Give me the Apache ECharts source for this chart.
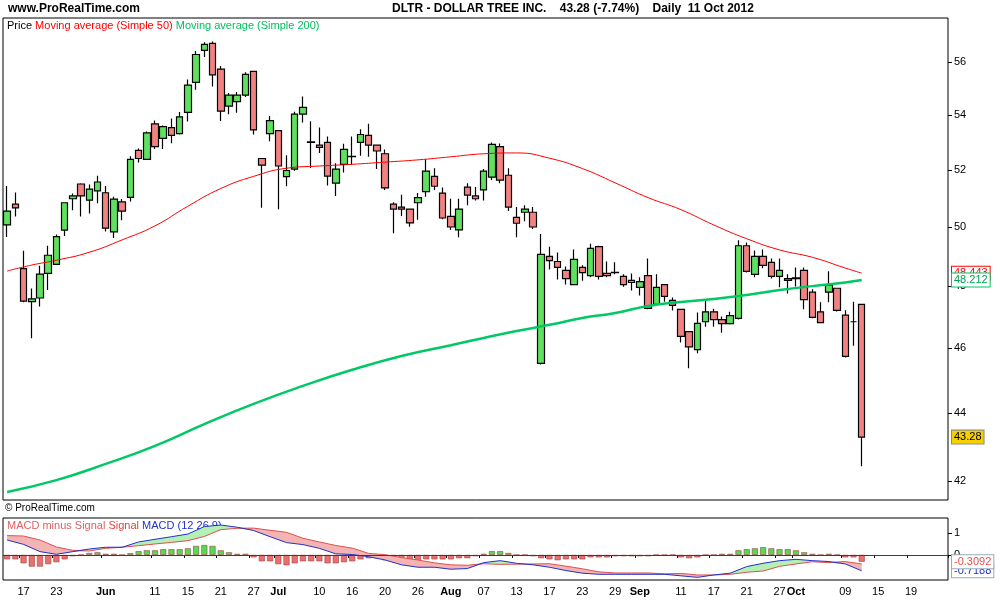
<!DOCTYPE html>
<html>
<head>
<meta charset="utf-8">
<title>DLTR - DOLLAR TREE INC.</title>
<script src="https://cdn.jsdelivr.net/npm/echarts@6/dist/echarts.min.js"></script>
<style>
  * {margin: 0; padding: 0;}
  #chart {width: 1000px; height: 600px; background: #fff;}
</style>
</head>
<body>
<div id="chart"></div>
<script>
// trading days: weekdays from 15 May 2012, minus US market holidays, incl. empty days after 11 Oct
var holidays = ['2012-05-28', '2012-07-04', '2012-09-03'];
var dates = [];
for (var d = new Date(Date.UTC(2012, 4, 15)); dates.length < 115; d.setUTCDate(d.getUTCDate() + 1)) {
  var wd = d.getUTCDay(), s = d.toISOString().slice(0, 10);
  if (wd > 0 && wd < 6 && holidays.indexOf(s) < 0) dates.push(s);
}

var tickDates = ['2012-05-17','2012-05-23','2012-06-01','2012-06-11','2012-06-15','2012-06-21','2012-06-27',
  '2012-07-02','2012-07-10','2012-07-16','2012-07-20','2012-07-26','2012-08-01','2012-08-07','2012-08-13',
  '2012-08-17','2012-08-23','2012-08-29','2012-09-04','2012-09-11','2012-09-17','2012-09-21','2012-09-27',
  '2012-10-01','2012-10-09','2012-10-15','2012-10-19'];
var tickLabels = ['17','23','Jun','11','15','21','27','Jul','10','16','20','26','Aug','07','13',
  '17','23','29','Sep','11','17','21','27','Oct','09','15','19'];

var priceTicks = [42, 44, 46, 48, 50, 52, 54, 56];
var macdTicks = [1, 0];

// [open, close, low, high]
var ohlc = [
  [50.07,50.55,49.66,51.43],[50.79,50.66,50.36,51.2],[48.59,47.52,47.48,49.19],[47.5,47.59,46.32,47.93],
  [47.62,48.41,47.34,48.69],[48.43,49.04,47.88,49.36],[48.73,49.67,48.73,49.74],[49.89,50.84,49.69,50.84],
  [50.98,51.08,50.58,51.16],[51.5,51.08,50.36,51.53],[50.93,51.32,50.47,51.48],[51.26,51.57,50.82,51.79],
  [51.19,49.96,49.85,51.43],[49.83,50.97,49.62,51.05],[50.87,50.55,50.23,50.97],[51.03,52.38,50.88,52.49],
  [52.7,52.41,52.27,52.77],[52.38,53.34,52.38,53.39],[53.67,52.84,52.75,53.8],[53.14,53.57,52.75,53.61],
  [53.53,53.25,52.96,53.87],[53.31,53.93,53.28,54.11],[54.1,55.12,53.76,55.33],[55.22,56.29,54.94,56.43],
  [56.45,56.68,56.19,56.77],[56.72,55.51,55.07,56.8],[55.73,54.14,53.78,55.85],[54.33,54.74,54.03,54.82],
  [54.5,54.74,54.08,54.86],[54.74,55.53,54.67,55.61],[55.64,53.45,53.28,55.66],[52.41,52.17,50.67,52.43],
  [53.31,53.79,53.03,53.96],[53.42,52.14,50.61,53.42],[51.76,51.98,51.42,52.53],[52.03,54.03,51.97,54.12],
  [54.03,54.28,53.72,54.69],[53.01,52.99,52.07,53.77],[52.89,52.81,52.61,53.54],[52.99,51.78,51.45,53.21],
  [51.53,52.03,51.08,52.24],[52.2,52.74,51.91,52.94],[52.48,52.49,52.18,53.21],[52.99,53.28,52.51,53.47],
  [53.25,52.89,52.47,53.68],[52.89,52.68,52.03,52.89],[52.58,51.36,51.29,52.73],[50.79,50.62,49.79,50.86],
  [50.69,50.62,50.38,51.12],[50.62,50.14,50.01,50.62],[50.84,51.02,50.25,51.18],[51.23,51.96,51.05,52.38],
  [51.77,51.42,51.29,52.06],[51.18,50.31,50.27,51.38],[50.37,50.0,49.9,50.98],[49.9,50.62,49.65,50.98],
  [51.39,51.11,50.75,51.53],[51.08,50.98,50.92,51.39],[51.29,51.96,50.92,52.03],[51.74,52.92,51.64,52.99],
  [52.84,51.64,51.53,52.95],[51.81,50.69,50.55,52.06],[50.33,50.13,49.65,50.69],[50.51,50.62,50.2,50.75],
  [50.51,50.0,49.93,50.69],[45.53,49.07,45.49,49.76],[49.0,48.86,48.56,49.33],[48.83,48.63,48.23,49.13],
  [48.53,48.26,48.06,48.66],[48.06,48.9,48.06,49.23],[48.63,48.46,48.19,48.7],[48.36,49.27,48.3,49.43],
  [49.33,48.33,48.23,49.36],[48.43,48.36,48.3,48.83],[48.47,48.46,48.4,48.8],[48.33,48.06,47.99,48.4],
  [48.2,48.13,47.87,48.43],[47.97,48.16,47.7,48.3],[48.36,47.28,47.25,48.93],[47.41,47.97,47.38,48.4],
  [48.06,47.67,47.5,48.06],[47.54,47.38,47.21,47.64],[47.25,46.38,46.19,47.25],[46.53,46.05,45.38,46.53],
  [45.96,46.8,45.85,47.15],[46.85,47.17,46.69,47.55],[47.17,46.92,46.69,47.27],[46.92,46.79,46.5,47.02],
  [46.79,47.05,46.76,47.17],[46.96,49.36,46.92,49.55],[49.36,48.5,48.46,49.47],[48.4,49.0,48.3,49.2],
  [49.0,48.7,48.6,49.23],[48.8,48.33,48.26,48.93],[48.33,48.53,47.97,48.93],[48.2,48.26,47.77,48.4],
  [48.28,48.26,48.0,48.63],[48.53,47.57,47.25,48.63],[47.81,46.99,46.96,47.91],[47.17,46.82,46.82,47.48],
  [47.81,48.04,47.48,48.5],[47.94,47.22,47.18,47.94],[47.06,45.75,45.71,47.22],[46.85,46.85,46.08,47.5],
  [47.41,43.28,42.42,47.41]
];

// [day index, value]
var ma50 = [[0,48.51],[3,48.71],[6,48.87],[10,49.14],[14,49.56],[18,50.04],[22,50.72],[26,51.34],[30,51.77],
  [34,52.06],[38,52.14],[42,52.2],[46,52.28],[50,52.36],[54,52.47],[58,52.58],[62,52.61],[66,52.42],[70,52.05],
  [74,51.54],[78,51.02],[82,50.6],[86,50.07],[90,49.6],[94,49.22],[98,48.97],[102,48.61],[104,48.44]];
var ma200 = [[0,41.68],[6,42.02],[12,42.49],[18,43.02],[24,43.67],[30,44.28],[36,44.83],[42,45.33],[48,45.76],
  [54,46.1],[58,46.33],[62,46.55],[66,46.75],[70,46.97],[74,47.13],[78,47.36],[82,47.49],[86,47.59],[90,47.72],
  [94,47.88],[98,48.01],[102,48.13],[104,48.21]];

var hist = [-0.2,-0.2,-0.38,-0.53,-0.53,-0.42,-0.33,-0.2,-0.06,0,0.09,0.12,0.05,0.05,0,0.08,0.17,0.21,0.21,0.26,
  0.26,0.26,0.3,0.41,0.45,0.41,0.21,0.12,0.05,0.05,-0.11,-0.29,-0.29,-0.42,-0.47,-0.38,-0.29,-0.29,-0.29,-0.38,
  -0.38,-0.33,-0.29,-0.2,-0.15,-0.15,-0.24,-0.29,-0.33,-0.38,-0.33,-0.2,-0.2,-0.2,-0.2,-0.15,-0.15,-0.06,0.05,0.17,
  0.17,0.09,0,0,-0.06,-0.15,-0.2,-0.24,-0.2,-0.2,-0.2,-0.11,-0.11,-0.11,-0.06,-0.06,-0.06,-0.06,-0.06,0,
  0,0,-0.11,-0.15,-0.11,0,0,0.05,0.05,0.21,0.26,0.3,0.35,0.3,0.26,0.26,0.21,0.12,0.05,0,
  0.05,0,-0.11,-0.11,-0.31];
var macdIdx = [0,2,4,6,8,10,12,14,16,18,20,22,24,26,28,30,32,34,36,38,40,42,44,46,48,50,52,54,56,58,
  60,62,64,66,68,70,72,74,76,78,80,82,84,86,88,90,92,94,96,98,100,102,104];
var macd = [0.68,0.48,0.15,0.03,0.15,0.27,0.35,0.35,0.59,0.71,0.83,0.95,1.29,1.36,1.26,1.11,0.83,0.56,0.47,0.3,
  0.05,0.02,-0.08,-0.23,-0.45,-0.56,-0.56,-0.65,-0.62,-0.35,-0.26,-0.38,-0.45,-0.56,-0.71,-0.83,-0.88,-0.88,-0.88,-0.88,
  -0.88,-0.95,-1.02,-0.91,-0.83,-0.53,-0.38,-0.26,-0.2,-0.26,-0.3,-0.41,-0.72];
var signal = [0.88,0.86,0.68,0.36,0.21,0.18,0.3,0.35,0.42,0.5,0.57,0.65,0.84,1.15,1.21,1.22,1.12,1.03,0.76,0.59,
  0.43,0.31,0.07,0.01,-0.12,-0.23,-0.36,-0.45,-0.47,-0.4,-0.43,-0.42,-0.41,-0.4,-0.51,-0.63,-0.77,-0.82,-0.82,-0.82,
  -0.86,-0.84,-0.91,-0.91,-0.88,-0.79,-0.73,-0.52,-0.41,-0.31,-0.35,-0.3,-0.41];

var bandBase = [], bandPink = [], bandGreen = [];
for (var i = 0; i < macdIdx.length; i++) {
  var m = macd[i], sg = signal[i];
  bandBase.push([macdIdx[i], Math.min(m, sg)]);
  bandPink.push([macdIdx[i], sg > m ? sg - m : 0]);
  bandGreen.push([macdIdx[i], m > sg ? m - sg : 0]);
}
function pairs(idx, vals) { return idx.map(function (x, k) { return [x, vals[k]]; }); }

var font = 'Arial, "Liberation Sans", sans-serif';

// price tag drawn at the right end of an invisible horizontal mark line
function tagLine(value, text, color, bg, border) {
  return {
    silent: true, symbol: ['none', 'none'], animation: false,
    lineStyle: {color: 'rgba(0,0,0,0)', width: 1, type: 'solid'},
    label: {
      show: true, position: 'end', distance: 4, formatter: text,
      color: color, backgroundColor: bg, borderColor: border, borderWidth: 1,
      padding: [1, 2], fontSize: 11, fontFamily: font
    },
    data: [{yAxis: value}]
  };
}

var chart = echarts.init(document.getElementById('chart'));
var option = {
  animation: false,
  backgroundColor: '#fff',
  textStyle: {fontFamily: font},
  graphic: [
    {type: 'text', left: 8, top: 3, style: {text: 'www.ProRealTime.com', font: 'bold 12px ' + font, fill: '#000'}},
    {type: 'text', left: 392, top: 3, style: {text: 'DLTR - DOLLAR TREE INC.    43.28 (-7.74%)    Daily  11 Oct 2012', font: 'bold 12px ' + font, fill: '#000'}},
    {type: 'text', left: 7, top: 20, style: {
      text: '{a|Price }{b|Moving average (Simple 50) }{c|Moving average (Simple 200)}',
      rich: {a: {fill: '#000', fontSize: 11}, b: {fill: '#ff0000', fontSize: 11}, c: {fill: '#00c060', fontSize: 11}}}},
    {type: 'text', left: 5, top: 503, style: {text: '\u00a9 ProRealTime.com', font: '10px ' + font, fill: '#000'}},
    {type: 'text', left: 7, top: 520, style: {
      text: '{a|MACD minus Signal }{b|Signal }{c|MACD (12 26 9)}',
      rich: {a: {fill: '#e06060', fontSize: 11}, b: {fill: '#e04040', fontSize: 11}, c: {fill: '#2030d0', fontSize: 11}}}}
  ],
  grid: [
    {left: 3, right: 52, top: 18, height: 482, show: true, borderColor: '#000', borderWidth: 1},
    {left: 3, right: 52, top: 518, height: 62, show: true, borderColor: '#000', borderWidth: 1}
  ],
  xAxis: [
    {type: 'category', gridIndex: 0, data: dates, boundaryGap: true,
     axisLine: {show: false}, axisTick: {show: false}, axisLabel: {show: false}, splitLine: {show: false}},
    {type: 'category', gridIndex: 1, data: dates, boundaryGap: true,
     axisLine: {show: false},
     axisTick: {show: true, length: 3, lineStyle: {color: '#000'},
       interval: function (i, v) { return tickDates.indexOf(v) >= 0; }},
     axisLabel: {color: '#000', fontSize: 11, margin: 6, hideOverlap: false,
       interval: function (i, v) { return tickDates.indexOf(v) >= 0; },
       formatter: function (v) {
         var t = tickLabels[tickDates.indexOf(v)];
         return /[A-Z]/.test(t) ? '{b|' + t + '}' : t;
       },
       rich: {b: {fontWeight: 'bold', fontSize: 11, color: '#000'}}},
     splitLine: {show: false}}
  ],
  yAxis: [
    {type: 'log', gridIndex: 0, position: 'right', min: 41.45, max: 57.72, logBase: Math.E,
     axisLine: {show: false}, splitLine: {show: false},
     axisTick: {show: true, length: 4, lineStyle: {color: '#000'}, customValues: priceTicks},
     axisLabel: {color: '#000', fontSize: 11, margin: 6, customValues: priceTicks,
       formatter: function (v) { return Math.round(v); }}},
    {type: 'value', gridIndex: 1, position: 'right', min: -1.14, max: 1.68,
     axisLine: {show: false}, splitLine: {show: false},
     axisTick: {show: true, length: 4, lineStyle: {color: '#000'}, customValues: macdTicks},
     axisLabel: {color: '#000', fontSize: 11, margin: 6, customValues: macdTicks}}
  ],
  series: [
    {type: 'candlestick', xAxisIndex: 0, yAxisIndex: 0, data: ohlc, barWidth: 7,
     itemStyle: {color: '#5fe05f', color0: '#f08282', borderColor: '#000', borderColor0: '#000', borderWidth: 1.2},
     markLine: tagLine(43.28, '43.28', '#000', '#f5d000', '#888')},
    {type: 'line', xAxisIndex: 0, yAxisIndex: 0, data: ma50, smooth: true, symbol: 'none',
     lineStyle: {color: '#ff0000', width: 1},
     markLine: tagLine(48.44, '48.443', '#ff0000', '#fff', '#ff0000')},
    {type: 'line', xAxisIndex: 0, yAxisIndex: 0, data: ma200, smooth: true, symbol: 'none',
     lineStyle: {color: '#00c864', width: 2.5},
     markLine: tagLine(48.21, '48.212', '#00a050', '#fff', '#00c864')},

    {type: 'line', xAxisIndex: 1, yAxisIndex: 1, data: bandBase, stack: 'band', stackStrategy: 'all',
     symbol: 'none', lineStyle: {width: 0, opacity: 0}},
    {type: 'line', xAxisIndex: 1, yAxisIndex: 1, data: bandPink, stack: 'band', stackStrategy: 'all',
     symbol: 'none', lineStyle: {width: 0, opacity: 0}, areaStyle: {color: '#f4b4b4', opacity: 1}},
    {type: 'line', xAxisIndex: 1, yAxisIndex: 1, data: bandGreen, stack: 'band', stackStrategy: 'all',
     symbol: 'none', lineStyle: {width: 0, opacity: 0}, areaStyle: {color: '#b4f0b4', opacity: 1}},
    {type: 'bar', xAxisIndex: 1, yAxisIndex: 1, data: hist, barWidth: 6,
     itemStyle: {color: function (p) { return p.value >= 0 ? '#50dd50' : '#e87070'; },
                 borderColor: '#a04040', borderWidth: 0.6},
     markLine: {silent: true, symbol: ['none', 'none'], lineStyle: {color: '#2030d0', width: 1, type: 'solid'},
       label: {show: false}, data: [{yAxis: 0}]}},
    {type: 'line', xAxisIndex: 1, yAxisIndex: 1, data: pairs(macdIdx, signal), symbol: 'none',
     lineStyle: {color: '#e05050', width: 1},
     markLine: tagLine(-0.72, '-0.7188', '#2030d0', '#fff', '#99aabb')},
    {type: 'line', xAxisIndex: 1, yAxisIndex: 1, data: pairs(macdIdx, macd), symbol: 'none',
     lineStyle: {color: '#2030d0', width: 1},
     markLine: tagLine(-0.31, '-0.3092', '#e05050', '#fff', '#99aabb')}
  ]
};
chart.setOption(option);
</script>
</body>
</html>
